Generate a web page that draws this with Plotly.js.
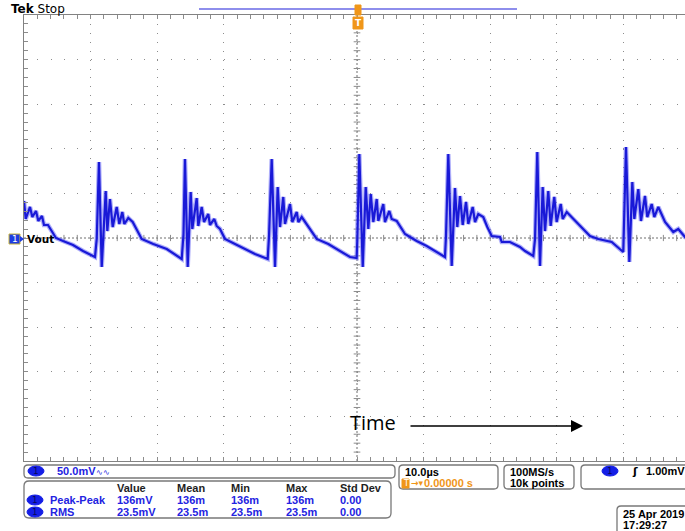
<!DOCTYPE html>
<html>
<head>
<meta charset="utf-8">
<script src="https://cdn.plot.ly/plotly-3.0.1.min.js"></script>
<style>
html,body{margin:0;padding:0;overflow:hidden;background:#fff;}
#chart{width:700px;height:531px;}
</style>
</head>
<body>
<div id="chart"></div>
<script>
// Waveform: time relative to trigger (µs), Vout (mV)
const time_us = [
-50.00,-49.74,-49.10,-48.75,-48.20,-47.85,-47.30,-47.00,-46.40,-45.84,-45.20,-44.14,-42.64,-41.14,-39.34,
-39.08,-38.74,-38.33,-37.73,-37.49,-37.09,-36.68,-36.08,-35.69,-35.24,-34.94,-34.34,-33.68,-33.08,-32.33,-30.59,-28.57,-26.32,
-26.05,-25.83,-25.42,-24.97,-24.73,-24.07,-23.83,-23.32,-22.97,-22.33,-22.07,-21.43,-21.07,-20.57,-19.82,-18.32,-16.82,-15.32,-13.41,
-13.21,-12.81,-12.31,-11.91,-11.56,-11.07,-10.81,-10.06,-9.71,-9.05,-8.81,-8.30,-7.55,-6.80,-6.05,-4.31,-2.30,-1.05,-0.05,
0.05,0.35,0.86,1.31,1.70,2.06,2.45,2.96,3.20,3.95,4.20,4.85,5.21,5.96,7.21,7.96,8.96,10.47,11.97,13.21,
13.36,13.71,14.22,14.71,15.06,15.47,15.87,16.37,16.71,17.37,17.72,18.21,18.96,19.56,20.23,21.47,21.73,22.97,24.47,25.23,26.47,
26.73,27.07,27.48,27.88,28.23,28.72,29.08,29.62,29.98,30.59,30.89,31.49,32.48,33.74,34.98,36.23,38.24,39.98,
40.09,40.39,40.89,41.34,41.64,42.24,42.64,43.24,43.59,44.25,44.64,45.24,46.25,47.49,48.24,49.25,50.00
];
const vout_mV = [
41.5,21.3,34.8,23.5,30.3,19.1,24.7,14.6,14.6,7.8,0.0,-3.4,-7.8,-14.6,-21.3,
-1.1,85.2,-32.5,52.7,7.8,43.7,12.3,34.8,15.7,29.1,15.7,22.4,17.9,10.1,-1.1,-6.7,-12.3,-23.5,
4.5,88.6,-32.5,51.6,10.1,44.8,13.5,34.8,17.9,26.9,14.6,21.3,13.5,10.1,-1.1,-6.7,-12.3,-17.9,-23.5,
2.2,88.6,-32.5,57.2,12.3,46.0,15.7,38.1,17.9,29.1,17.9,23.5,15.7,7.8,-1.1,-6.7,-15.7,-21.3,-22.4,
-1.1,94.2,-32.5,57.2,10.1,49.3,17.9,43.7,19.1,38.1,17.9,30.3,21.3,19.1,4.5,1.1,-3.4,-9.0,-15.7,-21.3,
2.2,94.2,-31.4,56.1,12.3,47.1,14.6,40.4,15.7,34.8,17.9,26.9,23.5,12.3,2.2,1.1,-4.5,-4.5,-10.1,-14.6,-20.2,
-1.1,96.4,-31.4,57.2,7.8,52.7,13.5,46.0,17.9,38.1,21.3,29.1,21.3,12.3,2.2,-1.1,-4.5,-15.7,
13.5,102.0,-26.9,62.8,21.3,54.9,19.1,47.1,23.5,38.1,23.5,34.8,17.9,6.7,10.1,1.1,-1.1
];

// Readout texts
const chLabel = 'Vout';
const vScale = '50.0mV';
const measHeaders = ['Value','Mean','Min','Max','Std Dev'];
const measNames = ['Peak-Peak','RMS'];
const measValue = ['136mV','23.5mV'];
const measMean = ['136m','23.5m'];
const measMin = ['136m','23.5m'];
const measMax = ['136m','23.5m'];
const measStd = ['0.00','0.00'];
const hScale = '10.0µs';
const trigPos = '0.00000 s';
const sampleRate = '100MS/s';
const recLen = '10k points';
const trigLevel = '1.00mV';
const dateStr = '25 Apr 2019';
const timeStr = '17:29:27';

// ---- layout helpers (pixel -> paper) ----
const L = 24, T = 15, W = 666, H = 446;
const X = px => (px - L) / W;
const Y = py => (T + H - py) / H;
const FONT = 'Liberation Sans, Arial, sans-serif';
const DJ = 'DejaVu Sans, sans-serif';
const BLUE = 'rgb(35,35,225)';
const ORANGE = 'rgb(240,150,25)';
const GRAY = 'rgb(140,140,140)';

const shapes = [];
const annotations = [];

function ann(text, px, py, o) {
  o = o || {};
  annotations.push({
    xref: 'paper', yref: 'paper', x: X(px), y: Y(py),
    xanchor: o.xanchor || 'left', yanchor: 'middle', text: text, showarrow: false,
    font: {family: o.family || FONT, size: o.size || 11, color: o.color || 'black'}
  });
}
function rrect(x0, y0, x1, y1, r, color) {
  const rx = r / W, ry = r / H;
  const a = X(x0), b = X(x1), c = Y(y0), d = Y(y1);
  const p = `M${a + rx},${c} L${b - rx},${c} Q${b},${c} ${b},${c - ry} L${b},${d + ry} Q${b},${d} ${b - rx},${d} ` +
            `L${a + rx},${d} Q${a},${d} ${a},${d + ry} L${a},${c - ry} Q${a},${c} ${a + rx},${c} Z`;
  shapes.push({type: 'path', xref: 'paper', yref: 'paper', path: p, line: {color: color || 'rgb(120,120,120)', width: 1.3}, fillcolor: 'rgba(0,0,0,0)'});
}
function oval(cx, cy, label) {
  shapes.push({type: 'circle', xref: 'paper', yref: 'paper', x0: X(cx - 8), x1: X(cx + 8), y0: Y(cy - 5), y1: Y(cy + 5),
    fillcolor: 'rgb(20,30,230)', line: {color: 'rgb(20,30,230)', width: 1}});
  ann(label, cx, cy, {xanchor: 'center', size: 9, color: 'rgb(10,10,90)', family: DJ});
}

// centre cross with small ticks
shapes.push({type: 'line', xref: 'x', yref: 'y', x0: -50, x1: 50, y0: 0, y1: 0, line: {color: 'rgb(110,110,110)', width: 1, dash: '2px,2px'}, layer: 'below'});
shapes.push({type: 'line', xref: 'x', yref: 'y', x0: 0, x1: 0, y0: -250, y1: 250, line: {color: 'rgb(110,110,110)', width: 1, dash: '2px,2px'}, layer: 'below'});
for (let t = -48; t <= 48; t += 2) {
  shapes.push({type: 'line', xref: 'x', yref: 'y', x0: t, x1: t, y0: -3.5, y1: 3.5, line: {color: GRAY, width: 1}, layer: 'below'});
}
for (let v = -240; v <= 240; v += 10) {
  shapes.push({type: 'line', xref: 'x', yref: 'y', x0: -0.5, x1: 0.5, y0: v, y1: v, line: {color: GRAY, width: 1}, layer: 'below'});
}

// header: Tek Stop, record bar, trigger markers
ann('<b>Tek</b> Stop', 9, 9, {size: 12, family: DJ});
shapes.push({type: 'line', xref: 'paper', yref: 'paper', x0: X(199), x1: X(517), y0: Y(9), y1: Y(9), line: {color: 'rgb(105,105,230)', width: 1.5}});
shapes.push({type: 'rect', xref: 'paper', yref: 'paper', x0: X(355), x1: X(361), y0: Y(5), y1: Y(15), fillcolor: ORANGE, line: {color: ORANGE, width: 1}});
shapes.push({type: 'rect', xref: 'paper', yref: 'paper', x0: X(353), x1: X(363), y0: Y(17), y1: Y(29), fillcolor: ORANGE, line: {color: ORANGE, width: 1}});
ann('<b>T</b>', 358, 23, {xanchor: 'center', size: 9, color: 'white', family: DJ});

// channel marker on left
shapes.push({type: 'rect', xref: 'paper', yref: 'paper', x0: X(9), x1: X(20), y0: Y(234), y1: Y(244), fillcolor: 'rgb(30,60,225)', line: {color: 'rgb(200,180,60)', width: 1}});
shapes.push({type: 'path', xref: 'paper', yref: 'paper', path: `M${X(20)},${Y(236)} L${X(24)},${Y(239)} L${X(20)},${Y(242)} Z`, fillcolor: 'rgb(30,60,225)', line: {width: 0}});
ann('1', 14.5, 239, {xanchor: 'center', size: 9, color: 'white', family: DJ});
ann('<b>' + chLabel + '</b>', 25, 239, {size: 10.5, family: DJ});

// Time arrow
ann('Time', 348, 422, {size: 20, family: 'Open Sans, sans-serif'});
annotations.push({xref: 'paper', yref: 'paper', x: X(583), y: Y(426), ax: -174, ay: 0, axref: 'pixel', ayref: 'pixel',
  text: '', showarrow: true, arrowhead: 2, arrowsize: 1.6, arrowwidth: 1.5, arrowcolor: 'black'});

// bottom readouts
rrect(24, 465, 395, 478, 4);
oval(36, 471, '1');
ann('<b>' + vScale + '</b><span style="font-size:8px">∿∿</span>', 55, 471, {color: BLUE});

rrect(24, 481, 391, 518, 5);
const colX = [115, 175, 229, 284, 338];
measHeaders.forEach((h, i) => ann('<b>' + h + '</b>', colX[i], 488, {color: 'rgb(30,30,30)'}));
const rowY = [500, 512];
measNames.forEach((n, r) => {
  oval(35, rowY[r], '1');
  ann('<b>' + n + '</b>', 48, rowY[r], {color: BLUE});
  [measValue, measMean, measMin, measMax, measStd].forEach((col, i) => ann('<b>' + col[r] + '</b>', colX[i], rowY[r], {color: BLUE}));
});

rrect(399, 465, 498, 489, 4);
ann('<b>' + hScale + '</b>', 403, 472);
shapes.push({type: 'rect', xref: 'paper', yref: 'paper', x0: X(402), x1: X(409), y0: Y(479), y1: Y(488), fillcolor: ORANGE, line: {color: ORANGE, width: 1}});
ann('T', 405.5, 483.5, {xanchor: 'center', size: 8, color: 'white', family: DJ});
ann('<b>→▾</b>', 409, 483, {color: ORANGE, size: 9, family: DJ});
ann('<b>' + trigPos + '</b>', 422, 483, {color: ORANGE});

rrect(504, 465, 574, 489, 4);
ann('<b>' + sampleRate + '</b>', 508, 472);
ann('<b>' + recLen + '</b>', 508, 483);

rrect(581, 465, 700, 489, 4);
oval(610, 471, '1');
ann('<b>ʃ</b>', 630, 471, {size: 11, family: DJ});
ann('<b>' + trigLevel + '</b>', 644, 471);

rrect(617, 506, 700, 536, 4);
ann('<b>' + dateStr + '</b>', 621, 514);
ann('<b>' + timeStr + '</b>', 621, 525);

const glow = {
  x: time_us, y: vout_mV, type: 'scatter', mode: 'lines',
  line: {color: 'rgba(110,110,245,0.55)', width: 4.5}, hoverinfo: 'skip'
};
const trace = {
  x: time_us, y: vout_mV, type: 'scatter', mode: 'lines',
  line: {color: 'rgb(25,25,215)', width: 2.2}, hoverinfo: 'skip'
};

const axisCommon = {
  showticklabels: false, zeroline: false, showline: true, linecolor: 'rgb(130,130,130)', linewidth: 1.2,
  mirror: 'allticks', ticks: 'inside', ticklen: 4, tickcolor: GRAY, tickwidth: 1,
  showgrid: true, gridcolor: 'rgb(140,140,140)', gridwidth: 1, fixedrange: true
};

const layout = {
  width: 700, height: 531,
  margin: {l: L, r: 700 - L - W, t: T, b: 531 - T - H},
  paper_bgcolor: 'white', plot_bgcolor: 'white',
  showlegend: false,
  xaxis: Object.assign({}, axisCommon, {range: [-50, 50], tick0: 0, dtick: 10, griddash: '1px,7.92px',
    minor: {dtick: 2, ticks: 'inside', ticklen: 4, tickcolor: GRAY, showgrid: false}}),
  yaxis: Object.assign({}, axisCommon, {range: [-250, 250], tick0: 0, dtick: 50, griddash: '1px,12.32px',
    minor: {dtick: 10, ticks: 'inside', ticklen: 4, tickcolor: GRAY, showgrid: false}}),
  shapes: shapes,
  annotations: annotations
};

Plotly.newPlot('chart', [glow, trace], layout, {staticPlot: true, displayModeBar: false});
</script>
</body>
</html>
